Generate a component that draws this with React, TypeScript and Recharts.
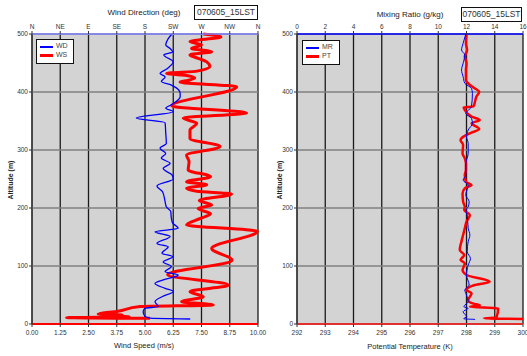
import React from "react";
import { ComposedChart, Line, XAxis, YAxis, CartesianGrid } from "recharts";

// wind direction profile (altitude m -> degrees)
const WD_ALT = [8.6, 10, 13, 21, 27, 30, 38.5, 47, 56, 61.5, 70, 76, 84.5, 90, 99, 107, 116, 122, 133, 139, 151, 159, 165, 174, 182, 194, 202, 211, 228, 238, 250, 257, 268, 277, 286, 294, 303, 311, 330, 347, 355, 366, 372, 378, 392, 398, 412, 418, 426, 432, 440, 452, 464, 469, 475, 481, 492, 500];
const WD_DEG = [252, 188, 180, 177, 180, 201, 196, 207, 225, 212, 196, 209, 233, 212, 222, 209, 224, 207, 217, 199, 220, 196, 233, 224, 222, 221, 214, 212, 208, 199, 225, 223, 209, 220, 206, 213, 204, 214, 213, 212, 166, 225, 213, 222, 236, 236, 222, 206, 212, 204, 215, 225, 210, 224, 220, 213, 217, 223];

// wind speed profile (altitude m -> m/s)
const WS_ALT = [9.7, 11, 12.6, 14, 15.5, 17.2, 22, 30, 32.8, 38.5, 47, 55.8, 67, 85, 110, 130, 160, 170.7, 182, 190, 199, 205, 213, 224, 229, 234, 240, 245, 254, 265.5, 280, 291, 306, 320, 334.5, 346, 355, 364, 376, 409, 417, 420, 424, 428, 432, 436, 444, 452, 458, 464, 469.5, 475, 481, 487, 495, 500];
const WS_SPEED = [5.22, 1.53, 4.3, 3.2, 4.0, 2.93, 3.8, 4.78, 8.02, 6.62, 7.58, 6.99, 8.69, 6.0, 8.85, 7.95, 9.97, 6.84, 7.45, 7.9, 7.35, 7.95, 7.4, 8.83, 7.29, 6.84, 7.73, 6.84, 7.9, 6.91, 6.95, 6.84, 8.32, 6.99, 6.99, 7.29, 6.69, 9.5, 6.18, 9.06, 6.55, 6.9, 7.2, 6.9, 5.96, 7.3, 7.87, 7.73, 7.36, 6.99, 7.95, 7.06, 7.5, 6.99, 8.36, 7.58];

// mixing ratio profile (altitude m -> g/kg)
const MR_ALT = [8, 9, 12.6, 21.3, 27, 29.9, 38.5, 50, 58.6, 67.2, 84.5, 101.7, 113, 124.7, 142, 153.4, 165, 188, 196.6, 202, 211, 222.4, 239.6, 248, 257, 277, 294, 311.5, 323, 334.5, 346, 354.6, 363, 374.7, 397.7, 406.3, 415, 426.4, 438, 449.4, 463.8, 472.4, 484, 500];
const MR_VAL = [12.6, 11.8, 12.0, 11.76, 12.12, 11.81, 12.12, 12.0, 11.88, 12.19, 12.0, 12.12, 12.28, 12.05, 12.12, 12.24, 12.12, 12.05, 11.95, 12.12, 12.19, 11.95, 12.12, 11.76, 11.95, 11.95, 12.12, 12.12, 12.0, 12.12, 12.42, 12.35, 11.95, 12.35, 12.42, 12.35, 11.88, 11.76, 11.65, 11.76, 11.88, 11.65, 11.76, 11.95];

// potential temperature profile (altitude m -> K)
const PT_ALT = [8.6, 9.8, 11, 27, 29.6, 32.4, 35.2, 41, 52.9, 58.6, 67.2, 73, 84.5, 93, 104.6, 110.3, 119, 127.6, 142, 153.4, 165, 176.4, 188, 196.6, 202, 211, 225, 234, 239.6, 245, 257, 265.5, 277, 285.6, 294, 308.6, 317, 320, 328.7, 336, 346, 351.7, 357.5, 369, 373.6, 374.7, 392, 400.6, 406.3, 415, 420.7, 438, 449.4, 461, 472.4, 484, 500];
const PT_VAL = [300.0, 298.62, 299.06, 299.12, 298.12, 298.47, 298.24, 298.06, 298.18, 298.0, 298.29, 298.82, 298.0, 297.86, 297.94, 297.79, 297.92, 297.76, 297.82, 297.88, 297.94, 298.0, 298.12, 297.92, 297.94, 297.88, 297.86, 297.94, 298.18, 297.98, 297.94, 297.98, 297.98, 297.94, 297.86, 297.88, 297.79, 297.82, 298.12, 298.45, 298.18, 298.47, 298.18, 297.94, 297.9, 298.24, 298.35, 298.45, 298.29, 298.06, 297.98, 297.98, 298.0, 297.94, 298.02, 297.98, 298.0];

const ALT_TICKS = [0, 100, 200, 300, 400, 500];
const DIR_TICKS = [0, 45, 90, 135, 180, 225, 270, 315, 360];
const DIR_LABELS = ["N", "NE", "E", "SE", "S", "SW", "W", "NW", "N"];
const SPEED_TICKS = [0, 1.25, 2.5, 3.75, 5, 6.25, 7.5, 8.75, 10];
const MR_TICKS = [0, 2, 4, 6, 8, 10, 12, 14, 16];
const PT_TICKS = [292, 293, 294, 295, 296, 297, 298, 299, 300];

const FONT = "'Liberation Sans', Arial, sans-serif";
const tickStyle = { fill: "#333", fontSize: 6.5, fontFamily: FONT };

const toRows = (alt: number[], vals: number[]) => alt.map((a, i) => ({ alt: a, v: vals[i] }));

interface PanelProps {
  width: number;
  topTicks: number[];
  topFormat: (v: number) => string;
  topStroke: string;
  bottomTicks: number[];
  bottomFormat: (v: number) => string;
  bottomStroke: string;
  blueData: { alt: number; v: number }[];
  redData: { alt: number; v: number }[];
  blueWidth: number;
  redWidth: number;
}

function Panel(p: PanelProps) {
  const topDomain = [p.topTicks[0], p.topTicks[p.topTicks.length - 1]];
  const bottomDomain = [p.bottomTicks[0], p.bottomTicks[p.bottomTicks.length - 1]];
  return (
    <ComposedChart
      width={p.width}
      height={356}
      layout="vertical"
      margin={{ top: 0, right: p.width - 258, left: 0, bottom: 0 }}
    >
      <CartesianGrid
        xAxisId="bottom"
        horizontal={false}
        stroke="#1a1a1a"
        strokeWidth={1.3}
        fill="#d3d3d3"
        fillOpacity={1}
        verticalValues={p.bottomTicks}
      />
      <CartesianGrid
        xAxisId="bottom"
        vertical={false}
        stroke="#808080"
        strokeWidth={1.6}
        horizontalValues={ALT_TICKS}
      />
      <XAxis
        xAxisId="top"
        orientation="top"
        type="number"
        domain={topDomain}
        ticks={p.topTicks}
        tickFormatter={p.topFormat}
        height={34}
        tick={tickStyle}
        tickSize={3}
        tickMargin={2}
        axisLine={{ stroke: p.topStroke, strokeWidth: 1.5 }}
        tickLine={{ stroke: "#333" }}
        interval={0}
      />
      <XAxis
        xAxisId="bottom"
        orientation="bottom"
        type="number"
        domain={bottomDomain}
        ticks={p.bottomTicks}
        tickFormatter={p.bottomFormat}
        height={32}
        tick={tickStyle}
        tickSize={3}
        tickMargin={3}
        axisLine={{ stroke: p.bottomStroke, strokeWidth: 2 }}
        tickLine={{ stroke: "#333" }}
        interval={0}
      />
      <YAxis
        type="number"
        dataKey="alt"
        domain={[0, 500]}
        ticks={ALT_TICKS}
        width={32}
        reversed
        tick={tickStyle}
        tickSize={3}
        tickMargin={1}
        axisLine={{ stroke: "#333" }}
        tickLine={{ stroke: "#333" }}
        interval={0}
      />
      <Line
        xAxisId="bottom"
        data={p.redData}
        dataKey="v"
        type="monotone"
        stroke="#ff0000"
        strokeWidth={p.redWidth}
        dot={false}
        isAnimationActive={false}
      />
      <Line
        xAxisId="top"
        data={p.blueData}
        dataKey="v"
        type="monotone"
        stroke="#0000ff"
        strokeWidth={p.blueWidth}
        dot={false}
        isAnimationActive={false}
      />
    </ComposedChart>
  );
}

const abs = (x: number, y: number, extra: React.CSSProperties = {}): React.CSSProperties => ({
  position: "absolute",
  left: x,
  top: y,
  fontFamily: FONT,
  color: "#222",
  whiteSpace: "nowrap",
  ...extra,
});

function LegendBox({ x, y, names }: { x: number; y: number; names: [string, string] }) {
  return (
    <div style={abs(x, y, { width: 36, height: 23, border: "1.5px solid #111", background: "#fff" })}>
      <div style={{ position: "absolute", left: 3, top: 6, width: 13, height: 1.5, background: "#0000ff" }} />
      <div style={{ position: "absolute", left: 19, top: 2, fontSize: 7, lineHeight: "8px", color: "#444" }}>{names[0]}</div>
      <div style={{ position: "absolute", left: 3, top: 14, width: 13, height: 3, background: "#ff0000" }} />
      <div style={{ position: "absolute", left: 19, top: 11, fontSize: 7, lineHeight: "8px", color: "#444" }}>{names[1]}</div>
    </div>
  );
}

function StampBox({ x, y, w }: { x: number; y: number; w: number }) {
  return (
    <div style={abs(x, y, { width: w, height: 13, border: "1px solid #111", fontSize: 8.5, lineHeight: "13px", textAlign: "center", background: "#fff", color: "#333" })}>
      070605_15LST
    </div>
  );
}

export default function App() {
  return (
    <div style={{ position: "absolute", left: 0, top: 0, width: 527, height: 356, background: "#fff", overflow: "hidden" }}>
      <div style={{ position: "absolute", left: 0, top: 0 }}>
        <Panel
          width={270}
          topTicks={DIR_TICKS}
          topFormat={(v) => DIR_LABELS[DIR_TICKS.indexOf(v)] ?? ""}
          topStroke="#8080ff"
          bottomTicks={SPEED_TICKS}
          bottomFormat={(v) => v.toFixed(2)}
          bottomStroke="#ff0000"
          blueData={toRows(WD_ALT, WD_DEG)}
          redData={toRows(WS_ALT, WS_SPEED)}
          blueWidth={1.3}
          redWidth={3}
        />
      </div>
      <div style={{ position: "absolute", left: 265, top: 0 }}>
        <Panel
          width={262}
          topTicks={MR_TICKS}
          topFormat={(v) => String(v)}
          topStroke="#0000ff"
          bottomTicks={PT_TICKS}
          bottomFormat={(v) => String(v)}
          bottomStroke="#e03030"
          blueData={toRows(MR_ALT, MR_VAL)}
          redData={toRows(PT_ALT, PT_VAL)}
          blueWidth={1}
          redWidth={2.5}
        />
      </div>

      <div style={abs(144, 8, { fontSize: 8, lineHeight: "10px", transform: "translateX(-50%)" })}>Wind Direction (deg)</div>
      <div style={abs(410, 10, { fontSize: 8, lineHeight: "10px", transform: "translateX(-50%)" })}>Mixing Ratio (g/kg)</div>
      <StampBox x={194} y={5} w={62} />
      <StampBox x={461} y={7} w={59} />

      <div style={abs(144, 341, { fontSize: 7.5, lineHeight: "10px", transform: "translateX(-50%)" })}>Wind Speed (m/s)</div>
      <div style={abs(410, 342, { fontSize: 7.5, lineHeight: "10px", transform: "translateX(-50%)" })}>Potential Temperature (K)</div>

      <div style={abs(10, 180, { fontSize: 7, fontWeight: "bold", lineHeight: "9px", transform: "translate(-50%, -50%) rotate(-90deg)" })}>Altitude (m)</div>
      <div style={abs(279, 180, { fontSize: 7, fontWeight: "bold", lineHeight: "9px", transform: "translate(-50%, -50%) rotate(-90deg)" })}>Altitude (m)</div>

      <LegendBox x={36} y={39} names={["WD", "WS"]} />
      <LegendBox x={302} y={40} names={["MR", "PT"]} />
    </div>
  );
}
